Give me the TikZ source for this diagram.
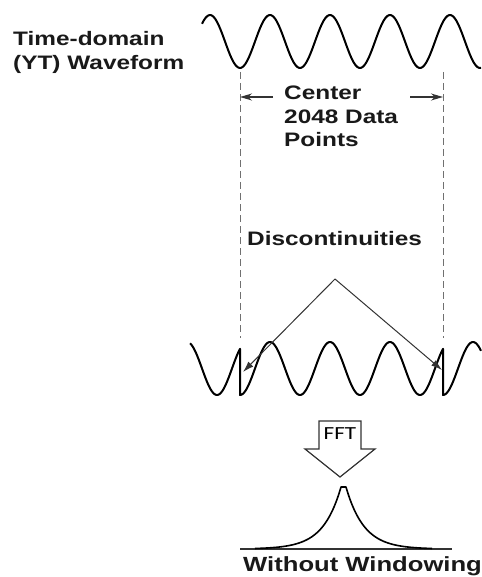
\documentclass[tikz,border=0pt]{standalone}
\usepackage{fontspec}
\setmainfont[FakeStretch=1.25]{Liberation Sans}
\newfontfamily\fftfont[FakeStretch=1.25]{Carlito}
\usetikzlibrary{calc,arrows.meta,positioning}
\definecolor{inkgray}{HTML}{333333}
\definecolor{dashgray}{HTML}{707070}

\begin{document}
\begin{tikzpicture}[x=1pt,y=-1pt,
    wave/.style={line width=2pt,black,line join=round},
    guide/.style={dashgray,line width=1pt,dash pattern=on 7pt off 4pt},
    span/.style={inkgray,line width=1.3pt,-{Stealth[length=12pt,width=7pt]}},
    pointer/.style={inkgray,line width=1pt,-{Latex[length=11pt,width=7pt]}},
    label/.style={anchor=base west,inner sep=0pt,align=left,text=black!90,
      font=\bfseries\fontsize{19.5}{23.7}\selectfont}]

  \useasboundingbox (0,0) rectangle (481,577);

  %% labels (base anchor sits on the last line)
  \node (label_time) [label] at(13,69.5) {Time-domain\\(YT) Waveform};
  \node (label_center) [label] at(284,147) {Center\\2048 Data\\Points};
  \node (label_disc) [label] at(247,245.7) {Discontinuities};
  \node (label_nowin) [label,font=\bfseries\fontsize{20.5}{24}\selectfont] at(243,571) {Without Windowing};

  %% time-domain waveform
  \draw[wave] plot[domain=202:481,samples=150] (\x,{41.5+26.5*cos(6*(\x-240))});

  %% borders of the 2048 points
  \foreach \n/\gx in {l/240,r/443}
           {
             \coordinate (guide_\n_top) at(\gx,72);
             \coordinate (guide_\n_bot) at(\gx,338);
             \draw[guide] (guide_\n_top) -- (guide_\n_bot);
           }

  \coordinate (span_l) at(273,97);
  \coordinate (span_r) at(410,97);
  \draw[span] (span_l) -- (guide_l_top |- span_l);
  \draw[span] (span_r) -- (guide_r_top |- span_r);

  %% repeated record with jumps
  \draw[wave] plot[domain=190:240,samples=40] (\x,{368.5+26.5*cos(6*(\x-37))})
    -- plot[domain=240:443,samples=150] (\x,{368.5+26.5*cos(6*(\x-240))})
    -- plot[domain=443:481,samples=30] (\x,{368.5+26.5*cos(6*(\x-443))});

  \coordinate (apex) at(335,279);
  \coordinate (jump_l) at(243,372);
  \coordinate (jump_r) at(442,370);
  \draw[pointer] (apex) -- (jump_l);
  \draw[pointer] (apex) -- (jump_r);

  %% FFT arrow
  \node (fft) [inner sep=0pt,font=\fftfont\fontsize{18.5}{20}\selectfont] at(340,434) {FFT};
  \draw[inkgray,line width=1.2pt,line join=miter]
    ($(fft)+(-21,-13)$) -- ($(fft)+(21,-13)$) -- ($(fft)+(21,15)$) -- ($(fft)+(35,15)$)
    -- ($(fft)+(0,43)$) -- ($(fft)+(-35,15)$) -- ($(fft)+(-21,15)$) -- cycle;

  %% spectrum
  \draw[inkgray,line width=1.2pt] (240,549) -- (452,549);
  \draw[black,line width=1.6pt,line join=round]
    plot[domain=255:341,samples=90] (\x,{549-62*exp((\x-341)/18)})
    -- plot[domain=346:432,samples=90] (\x,{549-62*exp((346-\x)/18)});

\end{tikzpicture}
\end{document}
